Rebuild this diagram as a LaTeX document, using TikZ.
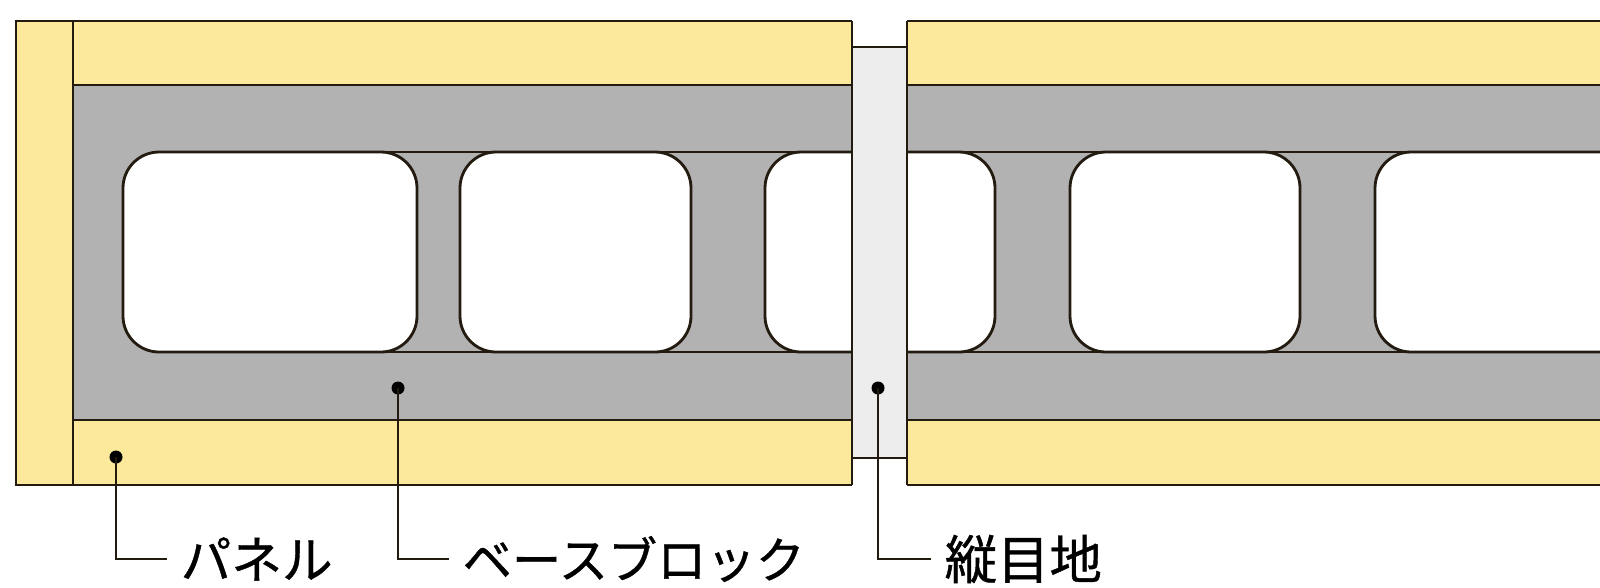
\documentclass[tikz,border=0pt]{standalone}
\usepackage{fontspec}
\newfontfamily\jpfont[FakeBold=0.8]{Noto Sans CJK JP}
\definecolor{panelc}{HTML}{FDE99B}
\definecolor{blockc}{HTML}{B2B2B2}
\definecolor{jointc}{HTML}{EDEDED}
\definecolor{linec}{HTML}{231A10}
\tikzset{
  outline/.style={draw=linec,line width=0.8pt},
  panelfill/.style={fill=panelc,outline},
  blockfill/.style={fill=blockc,outline},
  holefill/.style={fill=white,outline},
  holeround/.style={rounded corners=0.36cm},
  dotmark/.style={circle,fill=black,inner sep=0pt,minimum size=0.13cm},
  leader/.style={draw=linec,line width=0.7pt},
  callout/.style={anchor=west,inner ysep=0pt,inner xsep=0.13cm,font=\jpfont\fontsize{#1}{15pt}\selectfont,text=black}
}
\begin{document}
\begin{tikzpicture}[x=0.01cm,y=-0.01cm]
\useasboundingbox (0,0) rectangle (1600,587);
\clip (0,0) rectangle (1600,587);
% left wall
\draw[blockfill] (73,85) rectangle (852,420);
\draw[panelfill] (16,21) rectangle (73,485);
\draw[panelfill] (73,21) rectangle (852,85);
\draw[panelfill] (73,420) rectangle (852,485);
% left holes
\draw[holefill,holeround] (123,152) rectangle (417,352);
\draw[holefill,holeround] (460,152) rectangle (691,352);
\draw[holefill,holeround] (900,152) -- (765,152) -- (765,352) -- (900,352);
\draw[outline] (159,152) -- (852,152) (159,352) -- (852,352);
% right wall
\path[fill=blockc] (907,85) rectangle (1601,420);
\path[fill=panelc] (907,21) rectangle (1601,85);
\path[fill=panelc] (907,420) rectangle (1601,485);
\draw[outline] (907,85) -- (1601,85) (907,420) -- (1601,420);
% right holes
\draw[holefill,holeround] (860,152) -- (995,152) -- (995,352) -- (860,352);
\draw[holefill,holeround] (1070,152) rectangle (1300,352);
\draw[holefill,holeround] (1660,152) rectangle (1375,352);
\draw[outline] (907,152) -- (1601,152) (907,352) -- (1601,352);
% right wall edge
\draw[outline] (1601,21) -- (907,21) -- (907,485) -- (1601,485);
% joint
\path[fill=white] (852,0) rectangle (907,47) (852,458) rectangle (907,500);
\path[fill=jointc] (852,47) rectangle (907,458);
\draw[outline] (852,47) -- (907,47) (852,458) -- (907,458);
\draw[outline] (852,21) -- (852,485) (907,21) -- (907,485);
% callouts
\node[dotmark] (d1) at (116,457) {};
\node[dotmark] (d2) at (398,388) {};
\node[dotmark] (d3) at (878,388) {};
\node[callout=14.4pt] (l1) at (167,559) {パネル};
\node[callout=14pt] (l2) at (449,559) {ベースブロック};
\node[callout=14.9pt] (l3) at (931,559) {縦目地};
\draw[leader] (d1.center) |- (l1.west);
\draw[leader] (d2.center) |- (l2.west);
\draw[leader] (d3.center) |- (l3.west);
\end{tikzpicture}
\end{document}
